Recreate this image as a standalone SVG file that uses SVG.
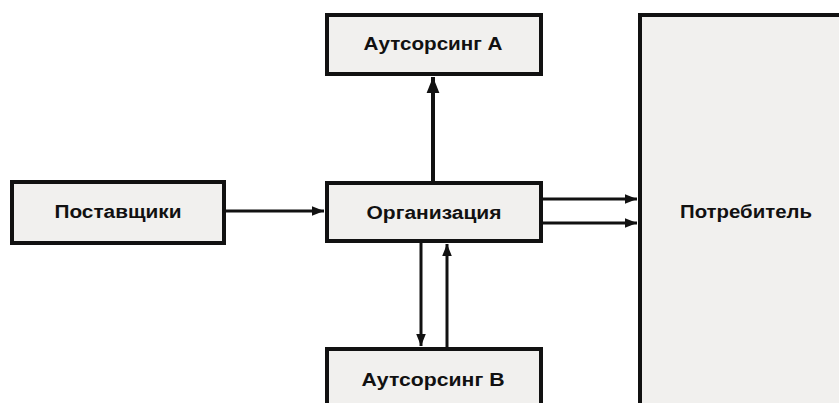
<svg xmlns="http://www.w3.org/2000/svg" width="839" height="403" viewBox="0 0 839 403">
<style>
.box{fill:#f1f0ee;stroke:#111;stroke-width:4}
.lbl{font-family:"Liberation Sans",Arial,sans-serif;font-size:18px;font-weight:bold;fill:#111;text-anchor:middle}
.ln{stroke:#111;stroke-width:3;fill:none}
.lnb{stroke:#111;stroke-width:4;fill:none}
</style>
<defs>
<marker id="ah" viewBox="0 0 10 10" refX="10" refY="5" markerWidth="4" markerHeight="4" markerUnits="strokeWidth" orient="auto">
<path d="M0,1 L10,5 L0,9 Z" fill="#111"/>
</marker>
</defs>
<rect width="839" height="403" fill="#fff"/>
<g id="consumer"><rect class="box" x="640" y="15" width="210" height="400"/><text class="lbl" x="746" y="218" textLength="132" lengthAdjust="spacingAndGlyphs">Потребитель</text></g>
<g id="outsourcingA"><rect class="box" x="327" y="15" width="214" height="59"/><text class="lbl" x="433" y="50" textLength="139" lengthAdjust="spacingAndGlyphs">Аутсорсинг А</text></g>
<g id="suppliers"><rect class="box" x="12" y="182" width="212" height="61"/><text class="lbl" x="118" y="218" textLength="127" lengthAdjust="spacingAndGlyphs">Поставщики</text></g>
<g id="organization"><rect class="box" x="327" y="183" width="214" height="58"/><text class="lbl" x="434" y="219" textLength="135" lengthAdjust="spacingAndGlyphs">Организация</text></g>
<g id="outsourcingB"><rect class="box" x="327" y="349" width="214" height="70"/><text class="lbl" x="433" y="386" textLength="143" lengthAdjust="spacingAndGlyphs">Аутсорсинг В</text></g>
<g id="connectors">
<line class="ln" x1="224" y1="211" x2="324" y2="211" marker-end="url(#ah)"/>
<line class="lnb" x1="433" y1="181" x2="433" y2="77" marker-end="url(#ah)"/>
<line class="ln" x1="541" y1="199" x2="637" y2="199" marker-end="url(#ah)"/>
<line class="ln" x1="541" y1="223" x2="637" y2="223" marker-end="url(#ah)"/>
<line class="ln" x1="421" y1="243" x2="421" y2="346" marker-end="url(#ah)"/>
<line class="ln" x1="447" y1="347" x2="447" y2="244" marker-end="url(#ah)"/>
</g>
</svg>
